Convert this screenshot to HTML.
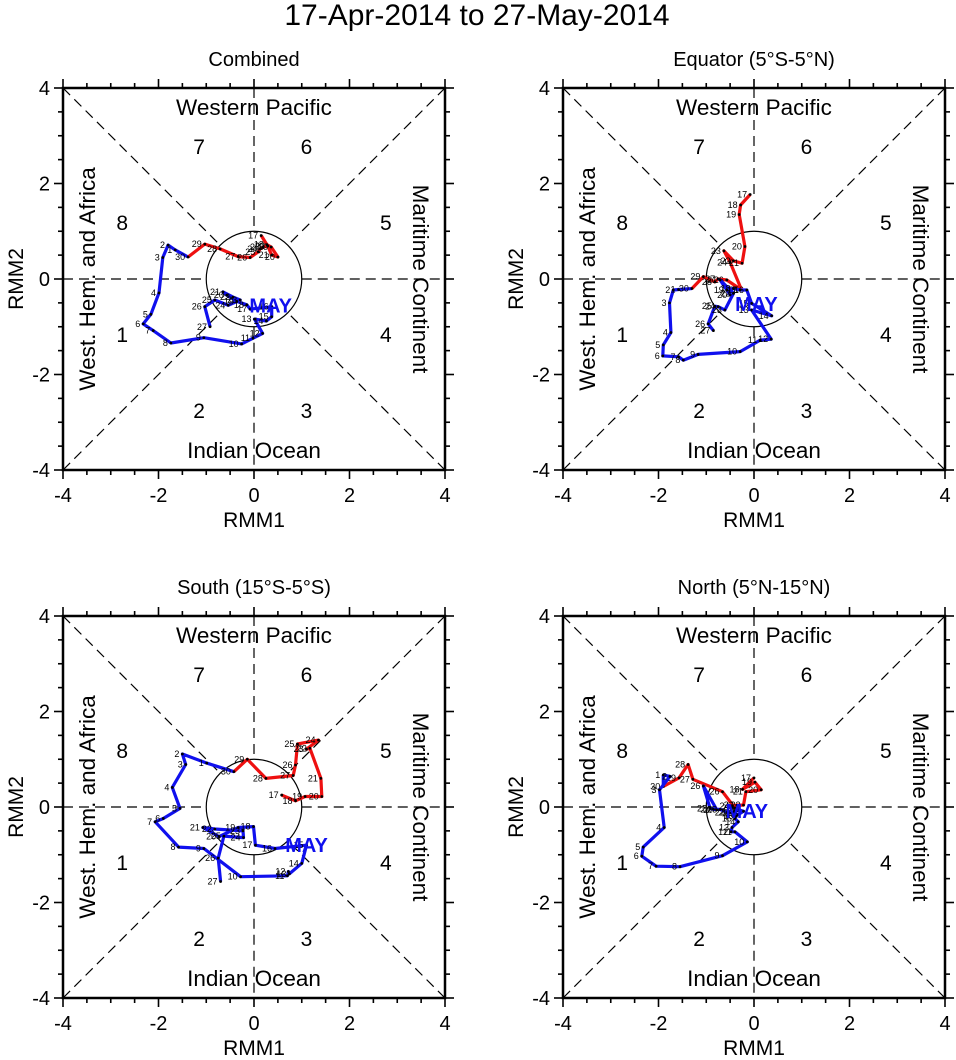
<!DOCTYPE html>
<html><head><meta charset="utf-8">
<style>
body{margin:0;background:#fff;}
svg{display:block;font-family:"Liberation Sans",sans-serif;}
</style></head>
<body>
<svg id="chart" width="956" height="1060" viewBox="0 0 956 1060" xmlns="http://www.w3.org/2000/svg">
<text x="477" y="25" font-size="30" text-anchor="middle">17-Apr-2014 to 27-May-2014</text>
</svg>
<script>
// Panel titles
const panelTitles = ["Combined", "Equator (5°S-5°N)", "South (15°S-5°S)", "North (5°N-15°N)"];
const tickValues = [-4, -2, 0, 2, 4];
const phaseLabels = ["1","2","3","4","5","6","7","8"];
// red segment days 17..30, blue segment days 1..27
const redDays = [17,18,19,20,21,22,23,24,25,26,27,28,29,30];
const blueDays = [1,2,3,4,5,6,7,8,9,10,11,12,13,14,15,16,17,18,19,20,21,22,23,24,25,26,27];

// Panel 1 (Combined)
const p1RedX = [0.15,0.27,0.36,0.50,0.37,0.29,0.19,0.13,0.09,-0.08,-0.33,-0.71,-1.03,-1.38];
const p1RedY = [0.91,0.72,0.67,0.46,0.50,0.69,0.67,0.63,0.57,0.45,0.47,0.63,0.73,0.46];
const p1BlueX = [-1.65,-1.80,-1.91,-1.99,-2.16,-2.32,-2.11,-1.74,-1.05,-0.26,-0.02,0.18,0.01,0.26,0.37,0.37,-0.08,-0.15,-0.36,-0.57,-0.65,-0.44,-0.29,-0.54,-0.82,-1.03,-0.92];
const p1BlueY = [0.61,0.71,0.45,-0.29,-0.74,-0.94,-1.08,-1.34,-1.23,-1.36,-1.24,-1.14,-0.84,-0.88,-0.79,-0.58,-0.63,-0.54,-0.47,-0.34,-0.27,-0.38,-0.44,-0.55,-0.44,-0.58,-1.00];
// Panel 2 (Equator)
const p2RedX = [-0.08,-0.28,-0.31,-0.19,-0.25,-0.43,-0.63,-0.50,-0.26,-0.57,-0.75,-0.82,-1.06,-1.30];
const p2RedY = [1.77,1.55,1.35,0.68,0.33,0.38,0.59,0.35,-0.23,-0.02,0.00,-0.06,0.05,-0.20];
const p2BlueX = [-1.58,-1.69,-1.77,-1.74,-1.90,-1.91,-1.58,-1.48,-1.17,-0.29,0.13,0.36,-0.05,0.37,-0.05,-0.15,-0.29,-0.43,-0.57,-0.50,-0.71,-0.43,-0.61,-0.75,-0.82,-0.96,-0.85];
const p2BlueY = [-0.22,-0.23,-0.50,-1.12,-1.38,-1.61,-1.63,-1.70,-1.58,-1.52,-1.28,-1.26,-0.65,-0.77,-0.51,-0.23,-0.23,-0.20,-0.23,-0.33,-0.02,-0.30,-0.65,-0.58,-0.57,-0.94,-1.08];
// Panel 3 (South)
const p3RedX = [0.58,0.87,1.07,1.42,1.40,1.17,1.10,1.35,0.91,0.87,0.82,0.25,-0.14,-0.42];
const p3RedY = [0.25,0.13,0.22,0.22,0.60,1.23,1.21,1.40,1.32,0.88,0.66,0.60,1.00,0.74];
const p3BlueX = [-0.99,-1.50,-1.43,-1.71,-1.55,-1.90,-2.07,-1.58,-1.05,-0.28,0.70,0.72,0.74,1.00,1.10,0.44,0.03,-0.01,-0.33,-0.73,-1.07,-0.82,-0.23,-0.22,-0.63,-0.75,-0.70];
const p3BlueY = [0.92,1.11,0.89,0.41,-0.03,-0.24,-0.31,-0.84,-0.87,-1.46,-1.44,-1.35,-1.40,-1.18,-0.80,-0.87,-0.80,-0.41,-0.43,-0.62,-0.43,-0.46,-0.50,-0.64,-0.61,-1.07,-1.56];
// Panel 4 (North)
const p4RedX = [0.00,-0.24,0.02,0.15,-0.17,-0.22,-0.36,-0.45,-0.40,-0.66,-1.28,-1.38,-1.57,-1.90];
const p4RedY = [0.61,0.37,0.52,0.36,0.32,0.04,0.04,0.02,-0.02,0.32,0.58,0.89,0.61,0.43];
const p4BlueX = [-1.90,-1.76,-1.98,-1.88,-2.32,-2.35,-2.05,-1.55,-0.66,-0.14,-0.40,-0.48,-0.46,-0.33,-0.40,-0.37,-0.40,-0.31,-0.22,-0.33,-0.47,-0.55,-0.71,-0.85,-0.92,-1.06,-0.78];
const p4BlueY = [0.67,0.64,0.36,-0.43,-0.84,-1.03,-1.24,-1.25,-1.02,-0.73,-0.52,-0.52,-0.43,-0.31,-0.24,-0.19,-0.09,-0.06,-0.09,-0.16,-0.12,-0.12,-0.05,-0.05,-0.03,0.44,-0.06];
// MAY label positions in data units
const mayX = [0.35, 0.05, 1.1, -0.15];
const mayY = [-0.55, -0.52, -0.80, -0.08];

const svg = document.getElementById('chart');
const NS = 'http://www.w3.org/2000/svg';
function mk(tag, attrs, parent){
  const e = document.createElementNS(NS, tag);
  for (const k in attrs) e.setAttribute(k, attrs[k]);
  (parent||svg).appendChild(e);
  return e;
}
const S = 47.75;
const panels = [
  {cx:254, cy:279, rx:p1RedX, ry:p1RedY, bx:p1BlueX, by:p1BlueY},
  {cx:754, cy:279, rx:p2RedX, ry:p2RedY, bx:p2BlueX, by:p2BlueY},
  {cx:254, cy:807, rx:p3RedX, ry:p3RedY, bx:p3BlueX, by:p3BlueY},
  {cx:754, cy:807, rx:p4RedX, ry:p4RedY, bx:p4BlueX, by:p4BlueY}
];
panels.forEach((p, i) => {
  const g = mk('g', {});
  
  
  const X = v => p.cx + v*S, Y = v => p.cy - v*S;
  const L = X(-4), R = X(4), T = Y(4), B = Y(-4);
  const t = mk('text', {x:p.cx, y:T-22, 'font-size':20, 'text-anchor':'middle'}, g);
  t.textContent = panelTitles[i];
  
  
  const dash = {stroke:'#000', 'stroke-width':1.2, 'stroke-dasharray':'10 6', fill:'none'};
  const r1 = S, d = S/Math.SQRT2;
  const segs = [[L,p.cy,p.cx-r1,p.cy],[p.cx+r1,p.cy,R,p.cy],[p.cx,T,p.cx,p.cy-r1],[p.cx,p.cy+r1,p.cx,B],
    [L,T,p.cx-d,p.cy-d],[R,T,p.cx+d,p.cy-d],[L,B,p.cx-d,p.cy+d],[R,B,p.cx+d,p.cy+d]];
  segs.forEach(s => {
    const ln = mk('line', Object.assign({x1:s[0],y1:s[1],x2:s[2],y2:s[3]}, dash), g);
    
    
  });
  const c = mk('circle', {cx:p.cx, cy:p.cy, r:r1, fill:'none', stroke:'#000', 'stroke-width':1.2}, g);
  
  
  const fr = mk('rect', {x:L, y:T, width:R-L, height:B-T, fill:'none', stroke:'#000', 'stroke-width':2.5}, g);
  
  
  // outward ticks every 0.5
  for (let k=-8; k<=8; k++) {
    const v = k/2;
    const len = (k % 4 === 0) ? 9 : 5;
    const st = {stroke:'#000','stroke-width':1.6};
    mk('line', Object.assign({x1:X(v), y1:B, x2:X(v), y2:B+len}, st), g);
    mk('line', Object.assign({x1:X(v), y1:T, x2:X(v), y2:T-len}, st), g);
    mk('line', Object.assign({x1:L, y1:Y(v), x2:L-len, y2:Y(v)}, st), g);
    mk('line', Object.assign({x1:R, y1:Y(v), x2:R+len, y2:Y(v)}, st), g);
  }
  tickValues.forEach(v => {
    const tx = mk('text', {x:X(v), y:B+32, 'font-size':20, 'text-anchor':'middle'}, g);
    tx.textContent = v;
    
    
    const ty = mk('text', {x:L-13, y:Y(v)+7, 'font-size':20, 'text-anchor':'end'}, g);
    ty.textContent = v;
    
    
  });
  const xt = mk('text', {x:p.cx, y:B+57, 'font-size':21, 'text-anchor':'middle'}, g);
  xt.textContent = 'RMM1';
  
  
  const yt = mk('text', {x:0, y:0, 'font-size':21, 'text-anchor':'middle', transform:`translate(${L-40},${p.cy}) rotate(-90)`}, g);
  yt.textContent = 'RMM2';
  
  
  const wp = mk('text', {x:p.cx, y:T+27, 'font-size':22.5, 'text-anchor':'middle'}, g);
  wp.textContent = 'Western Pacific';
  
  
  const io = mk('text', {x:p.cx, y:B-12, 'font-size':22.5, 'text-anchor':'middle'}, g);
  io.textContent = 'Indian Ocean';
  
  
  const wh = mk('text', {x:0, y:0, 'font-size':22.5, 'text-anchor':'middle', transform:`translate(${L+32},${p.cy}) rotate(-90)`}, g);
  wh.textContent = 'West. Hem. and Africa';
  
  
  const mc = mk('text', {x:0, y:0, 'font-size':22.5, 'text-anchor':'middle', transform:`translate(${R-32},${p.cy}) rotate(90)`}, g);
  mc.textContent = 'Maritime Continent';
  
  
  const ph = [[-2.76,-1.17],[-1.15,-2.76],[1.1,-2.76],[2.76,-1.17],[2.76,1.17],[1.1,2.76],[-1.15,2.76],[-2.76,1.17]];
  ph.forEach((q, k) => {
    const pt = mk('text', {x:X(q[0]), y:Y(q[1])+7, 'font-size':21, 'text-anchor':'middle'}, g);
    pt.textContent = phaseLabels[k];
    
    
  });
  function series(xs, ys, days, color, name){
    const pts = xs.map((v,k) => X(v).toFixed(1)+','+Y(ys[k]).toFixed(1)).join(' ');
    const pl = mk('polyline', {points:pts, fill:'none', stroke:color, 'stroke-width':3.2, 'stroke-linejoin':'round'}, g);
    
    
    xs.forEach((v,k) => {
      const dt = mk('circle', {cx:X(v), cy:Y(ys[k]), r:1.4, fill:'#000'}, g);
      
      
      const lb = mk('text', {x:X(v)-3, y:Y(ys[k])+3, 'font-size':9, 'text-anchor':'end'}, g);
      lb.textContent = days[k];
      
      
    });
  }
  const cn = mk('line', {x1:X(p.rx[p.rx.length-1]), y1:Y(p.ry[p.ry.length-1]), x2:X(p.bx[0]), y2:Y(p.by[0]), stroke:'#1010ee','stroke-width':3.2}, g);
  
  
  series(p.rx, p.ry, redDays, '#ee1010', 'red-trajectory');
  series(p.bx, p.by, blueDays, '#1010ee', 'blue-trajectory');
  const my = mk('text', {x:X(mayX[i]), y:Y(mayY[i])+7, 'font-size':20, 'font-weight':'bold', fill:'#1010ee', 'text-anchor':'middle'}, g);
  my.textContent = 'MAY';
  
  
});
</script>
</body></html>
